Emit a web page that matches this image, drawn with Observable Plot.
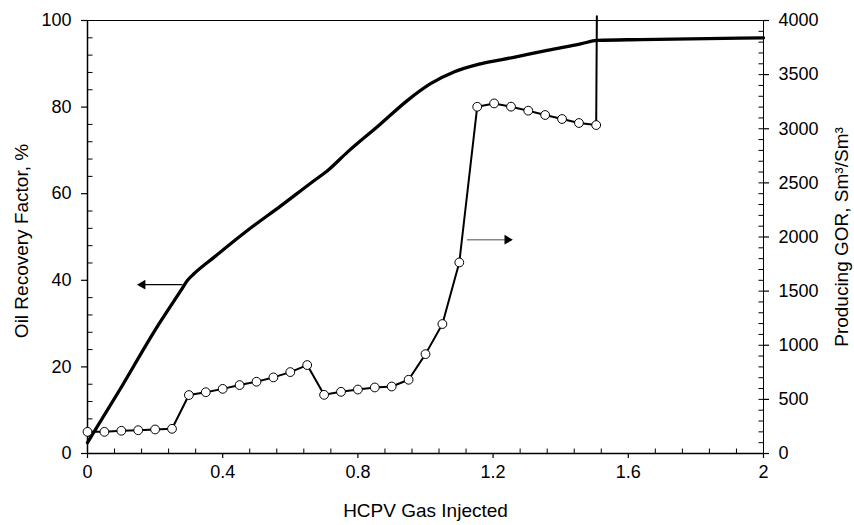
<!DOCTYPE html>
<html>
<head>
<meta charset="utf-8">
<script src="https://cdn.jsdelivr.net/npm/d3@7"></script>
<script src="https://cdn.jsdelivr.net/npm/@observablehq/plot@0.6"></script>
<style>
  html, body { margin: 0; padding: 0; background: #fff; }
  svg { display: block; }
</style>
</head>
<body>
<div id="chart"></div>
<script>
// Oil recovery factor (%) vs HCPV gas injected — left axis
const rfX = [0, 0.1, 0.2, 0.276, 0.296, 0.315, 0.374, 0.473, 0.572, 0.670, 0.710, 0.769, 0.867, 0.946, 1.015, 1.084, 1.163, 1.261, 1.360, 1.459, 1.508, 1.636, 2.0];
const rfY = [2.5, 15.3, 28.5, 37.6, 40.0, 41.5, 45.3, 51.5, 57.2, 63.0, 65.3, 69.6, 76.1, 81.5, 85.4, 88.1, 90.0, 91.5, 93.1, 94.6, 95.4, 95.6, 96.0];

// Producing GOR (Sm3/Sm3) — right axis, with markers
const gorX = [0, 0.05, 0.1, 0.15, 0.2, 0.25, 0.3, 0.35, 0.4, 0.45, 0.5, 0.55, 0.6, 0.65, 0.7, 0.75, 0.8, 0.85, 0.9, 0.95, 1.0, 1.05, 1.1, 1.153, 1.203, 1.253, 1.304, 1.354, 1.404, 1.454, 1.505];
const gorY = [200, 200, 210, 215, 222, 228, 540, 566, 597, 632, 663, 703, 752, 817, 542, 570, 591, 610, 619, 681, 918, 1196, 1765, 3203, 3234, 3204, 3167, 3127, 3090, 3053, 3034];
// GOR line continues vertically off the top of the chart after the last marker
const gorSpikeX = [1.507];
const gorSpikeY = [4040];

// Annotation arrows (which axis each curve belongs to)
const arrowLeft = {x1: 0.281, x2: 0.168, xHead: 0.163, rf: 39};
const arrowRight = {x1: 1.123, x2: 1.236, xHead: 1.242, gor: 1975};

// Axis ticks
const xMajor = [0, 0.4, 0.8, 1.2, 1.6, 2];
const xMinor = [0.08, 0.16, 0.24, 0.32, 0.48, 0.56, 0.64, 0.72, 0.88, 0.96, 1.04, 1.12, 1.28, 1.36, 1.44, 1.52, 1.68, 1.76, 1.84, 1.92];
const yLeftMajor = [0, 20, 40, 60, 80, 100];
const yLeftMinor = [4, 8, 12, 16, 24, 28, 32, 36, 44, 48, 52, 56, 64, 68, 72, 76, 84, 88, 92, 96];
const yRightMajor = [0, 500, 1000, 1500, 2000, 2500, 3000, 3500, 4000];
const yRightMinor = [100, 200, 300, 400, 600, 700, 800, 900, 1100, 1200, 1300, 1400, 1600, 1700, 1800, 1900, 2100, 2200, 2300, 2400, 2600, 2700, 2800, 2900, 3100, 3200, 3300, 3400, 3600, 3700, 3800, 3900];

const xTitle = "HCPV Gas Injected";
const yLeftTitle = "Oil Recovery Factor, %";
const yRightTitle = "Producing GOR, Sm³/Sm³";

const W = 854, H = 525, ML = 87, MR = 91, MT = 20, MB = 72;
const X_MIN = 0, X_MAX = 2, Y_MIN = 0, Y_MAX = 100;
const GOR_MAX = 4000;
const g2y = v => v * Y_MAX / GOR_MAX;

// inward minor tick length (px) expressed in each scale's units
const TICK_IN = 5;
const tx = TICK_IN * (X_MAX - X_MIN) / (W - ML - MR);
const ty = TICK_IN * (Y_MAX - Y_MIN) / (H - MT - MB);

const rf = rfX.map((x, i) => ({x, y: rfY[i]}));
const gor = gorX.map((x, i) => ({x, y: g2y(gorY[i])}));
const gorLine = gor.concat(gorSpikeX.map((x, i) => ({x, y: g2y(gorSpikeY[i])})));

const TICK_COLOR = "#000";

const chart = Plot.plot({
  width: W,
  height: H,
  marginLeft: ML,
  marginRight: MR,
  marginTop: MT,
  marginBottom: MB,
  x: {domain: [X_MIN, X_MAX]},
  y: {domain: [Y_MIN, Y_MAX]},
  style: {fontFamily: "'Liberation Sans', Arial, sans-serif", fontSize: "18px", color: "#000", background: "#fff", overflow: "visible"},
  marks: [
    Plot.frame({stroke: "#000", strokeWidth: 1}),
    // x axis
    Plot.axisX({ticks: xMajor, tickSize: 5, tickPadding: 7, tickFormat: d => String(d), label: null, strokeWidth: 1.2, fontSize: 18}),
    Plot.link(xMinor, {x1: d => d, x2: d => d, y1: () => Y_MIN, y2: () => Y_MIN + ty, stroke: TICK_COLOR, strokeWidth: 1}),
    Plot.ruleY([Y_MIN], {stroke: "#000", strokeWidth: 1.5}),
    // left y axis
    Plot.axisY({ticks: yLeftMajor, anchor: "left", tickSize: 6, tickPadding: 10, tickFormat: d => String(d), label: null, strokeWidth: 1.2, fontSize: 18}),
    Plot.link(yLeftMinor, {x1: () => X_MIN, x2: () => X_MIN + tx, y1: d => d, y2: d => d, stroke: TICK_COLOR, strokeWidth: 1}),
    Plot.ruleX([X_MIN], {stroke: "#000", strokeWidth: 1.5}),
    // right y axis (GOR)
    Plot.axisY({ticks: yRightMajor.map(g2y), anchor: "right", tickSize: 5, tickPadding: 10, tickFormat: d => String(Math.round(d * GOR_MAX / Y_MAX)), label: null, strokeWidth: 1.2, fontSize: 18}),
    Plot.link(yRightMajor.concat(yRightMinor), {x1: () => X_MAX - tx, x2: () => X_MAX, y1: d => g2y(d), y2: d => g2y(d), stroke: TICK_COLOR, strokeWidth: 1}),
    // titles
    Plot.text([xTitle], {frameAnchor: "bottom", textAnchor: "middle", dy: 63, fontSize: 19, fill: "#000"}),
    Plot.text([yLeftTitle], {frameAnchor: "left", textAnchor: "middle", rotate: -90, dx: -66, dy: 4, fontSize: 19, fill: "#000"}),
    Plot.text([yRightTitle], {frameAnchor: "right", textAnchor: "middle", rotate: -90, dx: 78, dy: 0, fontSize: 19, fill: "#000"}),
    // oil recovery curve
    Plot.line(rf, {x: "x", y: "y", stroke: "#000", strokeWidth: 3.3, curve: "monotone-x"}),
    // GOR curve
    Plot.line(gorLine, {x: "x", y: "y", stroke: "#000", strokeWidth: 2}),
    Plot.dot(gor, {x: "x", y: "y", r: 4.4, fill: "#fff", stroke: "#000", strokeWidth: 1}),
    // arrows
    Plot.link([arrowLeft], {x1: "x1", x2: "x2", y1: "rf", y2: "rf", stroke: "#000", strokeWidth: 1.2}),
    Plot.dot([arrowLeft], {x: "xHead", y: "rf", symbol: "triangle", rotate: -90, r: 3.6, fill: "#000", stroke: null}),
    Plot.link([arrowRight], {x1: "x1", x2: "x2", y1: d => g2y(d.gor), y2: d => g2y(d.gor), stroke: "#888", strokeWidth: 1.6}),
    Plot.dot([arrowRight], {x: "xHead", y: d => g2y(d.gor), symbol: "triangle", rotate: 90, r: 3.6, fill: "#000", stroke: null})
  ]
});

document.getElementById("chart").appendChild(chart);
</script>
</body>
</html>
